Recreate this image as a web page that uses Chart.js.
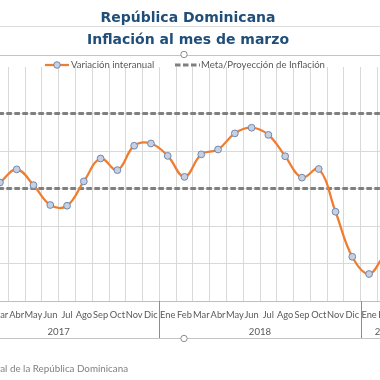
<!DOCTYPE html>
<html><head><meta charset="utf-8">
<script src="https://cdn.jsdelivr.net/npm/chart.js@4.4.1/dist/chart.umd.min.js"></script>
<style>
html,body{margin:0;padding:0;width:380px;height:380px;overflow:hidden;background:#fff}
#wrap{position:absolute;left:-42px;top:0;width:453px;height:380px}
canvas{display:block}
</style></head><body>
<div id="wrap"><canvas id="c" width="453" height="380" style="width:453px;height:380px"></canvas></div>
<script>
// ---- data ----
const monthLabels = ['Ene','Feb','Mar','Abr','May','Jun','Jul','Ago','Sep','Oct','Nov','Dic',
                     'Ene','Feb','Mar','Abr','May','Jun','Jul','Ago','Sep','Oct','Nov','Dic',
                     'Ene','Feb','Mar'];
const groupYears = ['2017','2018','2019'];
const groupSizes = [12, 12, 3];
const variacionInteranual = [2.35, 2.85, 3.16, 3.51, 3.09, 2.56, 2.54, 3.19, 3.80, 3.49, 4.14, 4.20,
                             3.87, 3.31, 3.91, 4.04, 4.47, 4.62, 4.43, 3.86, 3.29, 3.52, 2.38, 1.18,
                             0.72, 1.22, 1.25];
const metaSuperior = [5,5,5,5,5,5,5,5,5,5,5,5,5,5,5,5,5,5,5,5,5,5,5,5,5,5,5];
const metaInferior = [3,3,3,3,3,3,3,3,3,3,3,3,3,3,3,3,3,3,3,3,3,3,3,3,3,3,3];
const titleLines = ['República Dominicana', 'Inflación al mes de marzo'];
const legendLabels = ['Variación interanual', 'Meta/Proyección de Inflación'];
const sourceText = 'Fuente: Banco Central de la República Dominicana';

// ---- styles ----
const OX = 42; // canvas is shifted left by this many px
const SMALL = "'Lato', sans-serif";
const ORANGE = '#ED7D31';
const DASH = '#7F7F7F';
const PT_FILL = '#C6D0E1';
const PT_EDGE = '#7088AF';

const decor = {
  id: 'decor',
  afterDraw(chart) {
    const ctx = chart.ctx;
    const xs = chart.scales.x;
    const area = chart.chartArea;
    ctx.save();
    // title
    ctx.fillStyle = '#1F4E79';
    ctx.textAlign = 'center';
    ctx.textBaseline = 'alphabetic';
    ctx.font = "bold 14px 'DejaVu Sans'";
    ctx.fillText(titleLines[0], 188 + OX, 21.5);
    ctx.fillText(titleLines[1], 188 + OX, 44.3);
    // thin rules
    ctx.lineWidth = 1;
    ctx.strokeStyle = '#DCDCDC';
    ctx.beginPath(); ctx.moveTo(0, 26.5); ctx.lineTo(chart.width, 26.5); ctx.stroke();
    ctx.strokeStyle = '#C4C4C4';
    ctx.beginPath(); ctx.moveTo(0, 55.5); ctx.lineTo(chart.width, 55.5); ctx.stroke();
    ctx.beginPath(); ctx.moveTo(0, 338.5); ctx.lineTo(chart.width, 338.5); ctx.stroke();
    // legend
    const ly = 65;
    ctx.strokeStyle = ORANGE; ctx.lineWidth = 2.25;
    ctx.beginPath(); ctx.moveTo(45 + OX, ly); ctx.lineTo(69 + OX, ly); ctx.stroke();
    ctx.fillStyle = PT_FILL; ctx.strokeStyle = PT_EDGE; ctx.lineWidth = 1;
    ctx.beginPath(); ctx.arc(57 + OX, ly, 3.3, 0, Math.PI * 2); ctx.fill(); ctx.stroke();
    ctx.strokeStyle = DASH; ctx.lineWidth = 3; ctx.setLineDash([5.5, 2.5]);
    ctx.beginPath(); ctx.moveTo(175 + OX, ly); ctx.lineTo(200 + OX, ly); ctx.stroke();
    ctx.setLineDash([]);
    ctx.fillStyle = '#595959';
    ctx.font = '9.6px ' + SMALL;
    ctx.textAlign = 'left'; ctx.textBaseline = 'middle';
    ctx.fillText(legendLabels[0], 71 + OX, ly);
    ctx.fillText(legendLabels[1], 201 + OX, ly);
    // year groups
    const half = (xs.getPixelForValue(1) - xs.getPixelForValue(0)) / 2;
    let start = 0;
    ctx.textAlign = 'center';
    ctx.font = '9.6px ' + SMALL;
    groupYears.forEach((yr, i) => {
      const end = start + groupSizes[i] - 1;
      const left = xs.getPixelForValue(start) - half;
      const right = xs.getPixelForValue(end) + half;
      ctx.strokeStyle = '#8C8C8C'; ctx.lineWidth = 1;
      const sx = Math.round(right) + 0.5;
      ctx.beginPath(); ctx.moveTo(sx, area.bottom); ctx.lineTo(sx, 338); ctx.stroke();
      ctx.fillStyle = '#595959';
      ctx.fillText(yr, (left + right) / 2, 332);
      start = end + 1;
    });
    // selection handles
    ctx.fillStyle = '#FFFFFF'; ctx.strokeStyle = '#8C8C8C'; ctx.lineWidth = 1;
    [[184, 54.5], [184, 338.5]].forEach(([hx, hy]) => {
      ctx.beginPath(); ctx.arc(hx + OX, hy, 3.2, 0, Math.PI * 2); ctx.fill(); ctx.stroke();
    });
    // source
    ctx.fillStyle = '#808080';
    ctx.textAlign = 'right'; ctx.textBaseline = 'alphabetic';
    ctx.font = '9.8px ' + SMALL;
    ctx.fillText(sourceText, 128 + OX, 372);
    ctx.restore();
  }
};

new Chart(document.getElementById('c'), {
  type: 'line',
  data: {
    labels: monthLabels,
    datasets: [
      { label: legendLabels[0], data: variacionInteranual, borderColor: ORANGE, borderWidth: 2.25,
        tension: 0.4, pointRadius: 3.4, pointBackgroundColor: PT_FILL, pointBorderColor: PT_EDGE,
        pointBorderWidth: 1, fill: false },
      { label: legendLabels[1], data: metaSuperior, borderColor: DASH, borderWidth: 3,
        borderDash: [5.5, 2.5], pointRadius: 0, tension: 0, fill: false },
      { label: legendLabels[1], data: metaInferior, borderColor: DASH, borderWidth: 3,
        borderDash: [5.5, 2.5], pointRadius: 0, tension: 0, fill: false }
    ]
  },
  options: {
    responsive: false,
    animation: false,
    layout: { autoPadding: false, padding: { top: 67, left: 0, right: 0, bottom: 0 } },
    plugins: { legend: { display: false }, title: { display: false }, tooltip: { enabled: false } },
    scales: {
      x: {
        type: 'category',
        offset: true,
        grid: { offset: true, color: '#D9D9D9', drawTicks: false, lineWidth: 1 },
        border: { display: true, color: '#BFBFBF', width: 1 },
        ticks: { autoSkip: false, maxRotation: 0, minRotation: 0, padding: 8,
                 color: '#595959', font: { family: SMALL, size: 9.3 } },
        afterFit(s) { s.height = 79; s.paddingLeft = 0; s.paddingRight = 0; }
      },
      y: {
        min: 0, max: 6.24,
        ticks: { display: false, stepSize: 1 },
        border: { display: false },
        grid: { drawTicks: false,
                color: (c) => ([1, 2, 3, 4, 5].includes(c.tick.value) ? '#D9D9D9' : 'rgba(0,0,0,0)') },
        afterFit(s) { s.width = 0; s.paddingTop = 0; s.paddingBottom = 0; }
      }
    }
  },
  plugins: [decor]
});
</script>
</body></html>
